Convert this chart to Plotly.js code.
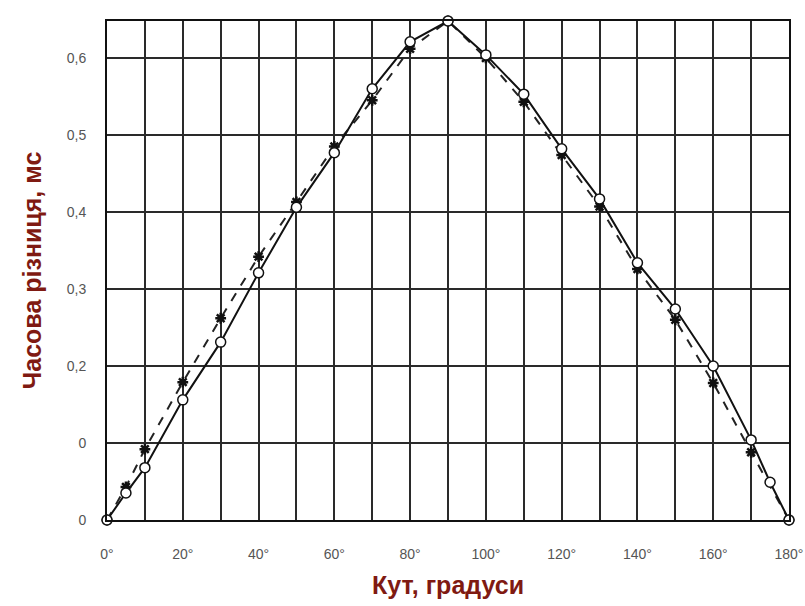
<!DOCTYPE html>
<html>
<head>
<meta charset="utf-8">
<script src="https://cdn.plot.ly/plotly-3.0.1.min.js"></script>
<style>html,body{margin:0;padding:0;background:#fff;}</style>
</head>
<body>
<div id="chart" style="width:805px;height:606px;"></div>
<script>
// Angle (degrees) and time difference (ms)
const angleSolid = [0, 5, 10, 20, 30, 40, 50, 60, 70, 80, 90, 100, 110, 120, 130, 140, 150, 160, 170, 175, 180];
const timeSolid  = [0, 0.035, 0.068, 0.156, 0.231, 0.321, 0.406, 0.477, 0.56, 0.621, 0.648, 0.604, 0.553, 0.482, 0.417, 0.334, 0.274, 0.2, 0.104, 0.049, 0];

const angleDashed = [0, 5, 10, 20, 30, 40, 50, 60, 70, 80, 90, 100, 110, 120, 130, 140, 150, 160, 170, 180];
const timeDashed  = [0, 0.043, 0.092, 0.179, 0.262, 0.342, 0.413, 0.485, 0.545, 0.612, 0.648, 0.600, 0.543, 0.474, 0.407, 0.326, 0.260, 0.178, 0.088, 0];

const xTickVals = [0,10,20,30,40,50,60,70,80,90,100,110,120,130,140,150,160,170,180];
const xTickText = ['0°','','20°','','40°','','60°','','80°','','100°','','120°','','140°','','160°','','180°'];
const yTickVals = [0, 0.1, 0.2, 0.3, 0.4, 0.5, 0.6];
const yTickText = ['0', '0', '0,2', '0,3', '0,4', '0,5', '0,6'];

const traces = [
  {
    x: angleDashed, y: timeDashed, type: 'scatter', mode: 'lines+markers',
    line: {color: '#222', width: 2, dash: 'dash'},
    marker: {symbol: 'asterisk-open', size: 9, color: '#111', line: {color: '#111', width: 2.5}},
    cliponaxis: false, hoverinfo: 'skip'
  },
  {
    x: angleSolid, y: timeSolid, type: 'scatter', mode: 'lines+markers',
    line: {color: '#111', width: 2},
    marker: {symbol: 'circle', size: 10, color: '#fff', line: {color: '#111', width: 1.5}},
    cliponaxis: false, hoverinfo: 'skip'
  }
];

const layout = {
  width: 805, height: 606,
  margin: {l: 107, r: 16, t: 21, b: 86},
  paper_bgcolor: '#fff', plot_bgcolor: '#fff',
  showlegend: false,
  font: {family: 'Liberation Sans, Arial, sans-serif', color: '#555', size: 14},
  xaxis: {
    range: [0, 180], tickvals: xTickVals, ticktext: xTickText,
    showgrid: true, gridcolor: '#2a2a2a', gridwidth: 2,
    showline: true, linecolor: '#111', linewidth: 2, mirror: true,
    ticks: '', ticklabelstandoff: 20, zeroline: false,
    tickfont: {size: 14, color: '#555'},
    title: {text: 'Кут, градуси', standoff: 16, font: {family: 'Liberation Sans, Arial, sans-serif', size: 25, color: '#7f1a12', weight: 'bold'}}
  },
  yaxis: {
    range: [0, 0.648], tickvals: yTickVals, ticktext: yTickText,
    showgrid: true, gridcolor: '#2a2a2a', gridwidth: 2,
    showline: true, linecolor: '#111', linewidth: 2, mirror: true,
    ticks: '', ticklabelstandoff: 16, zeroline: false,
    tickfont: {size: 14, color: '#555'},
    title: {text: 'Часова різниця, мс', standoff: 18, font: {family: 'Liberation Sans, Arial, sans-serif', size: 25, color: '#7f1a12', weight: 'bold'}}
  }
};

Plotly.newPlot('chart', traces, layout, {displayModeBar: false, staticPlot: true});
</script>
</body>
</html>
